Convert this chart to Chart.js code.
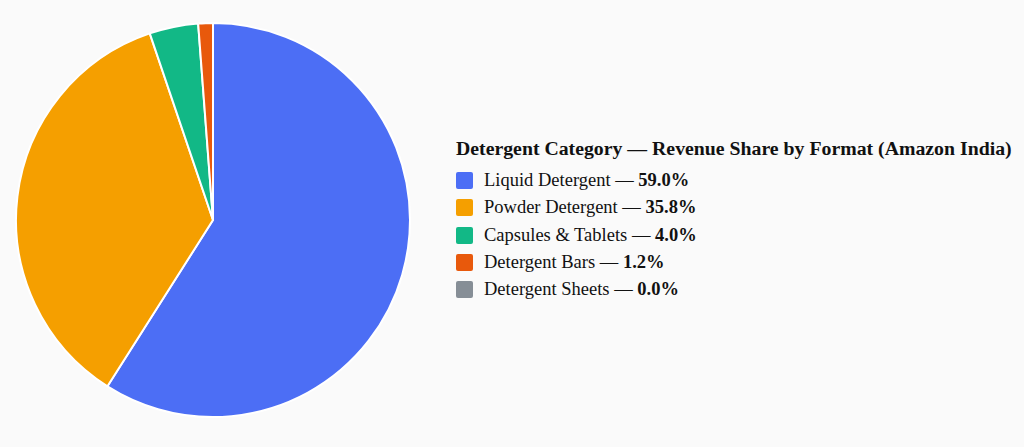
<!DOCTYPE html>
<html>
<head>
<meta charset="utf-8">
<script src="https://cdn.jsdelivr.net/npm/chart.js@4.4.1/dist/chart.umd.min.js"></script>
<style>
  html, body { margin: 0; padding: 0; background: #fafafa; }
  #wrap { position: relative; width: 1024px; height: 447px; overflow: hidden; }
  #pieBox { position: absolute; left: 15px; top: 22px; width: 396px; height: 396px; }
  #legend { position: absolute; left: 456px; top: 135px; font-family: "Liberation Serif", "Times New Roman", serif; color: #111; }
  #legend .title { font-weight: bold; font-size: 19.8px; line-height: 26px; margin-bottom: 6px; white-space: nowrap; }
  #legend .item { display: flex; align-items: center; height: 27.3px; font-size: 18.5px; white-space: nowrap; }
  #legend .sw { width: 17px; height: 17px; border-radius: 2px; margin-right: 11px; flex: none; }
  #legend b { font-weight: bold; }
</style>
</head>
<body>
<div id="wrap">
  <div id="pieBox"><canvas id="c"></canvas></div>
  <div id="legend"></div>
</div>
<script>
const chartTitle = "Detergent Category — Revenue Share by Format (Amazon India)";
const categories = ["Liquid Detergent", "Powder Detergent", "Capsules & Tablets", "Detergent Bars", "Detergent Sheets"];
const shares = [59.0, 35.8, 4.0, 1.2, 0.0];
const colors = ["#4c6ef5", "#f59f00", "#12b886", "#e8590c", "#868e96"];

new Chart(document.getElementById("c"), {
  type: "pie",
  data: {
    labels: categories,
    datasets: [{
      data: shares,
      backgroundColor: colors,
      borderColor: "#ffffff",
      borderWidth: 2,
      hoverOffset: 0
    }]
  },
  options: {
    responsive: true,
    maintainAspectRatio: false,
    animation: false,
    layout: { padding: 0 },
    plugins: { legend: { display: false }, tooltip: { enabled: false }, title: { display: false } }
  }
});

const lg = document.getElementById("legend");
const t = document.createElement("div");
t.className = "title";
t.textContent = chartTitle;
lg.appendChild(t);
categories.forEach((c, i) => {
  const row = document.createElement("div");
  row.className = "item";
  const sw = document.createElement("span");
  sw.className = "sw";
  sw.style.background = colors[i];
  const txt = document.createElement("span");
  txt.appendChild(document.createTextNode(c + " — "));
  const b = document.createElement("b");
  b.textContent = shares[i].toFixed(1) + "%";
  txt.appendChild(b);
  row.appendChild(sw);
  row.appendChild(txt);
  lg.appendChild(row);
});
</script>
</body>
</html>
